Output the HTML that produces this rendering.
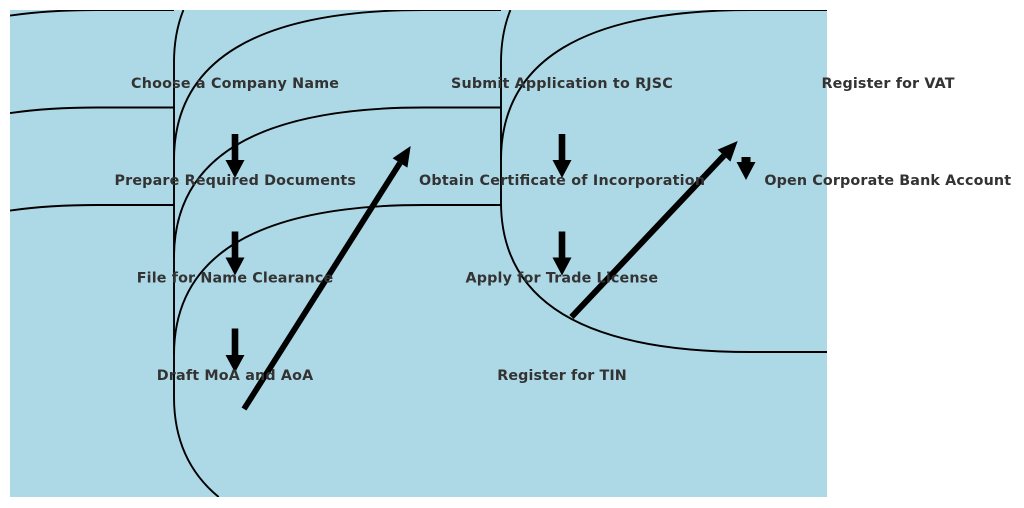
<!DOCTYPE html>
<html>
<head>
<meta charset="utf-8">
<style>
  html, body { margin: 0; padding: 0; background: #ffffff; width: 1024px; height: 508px; overflow: hidden; }
  svg { display: block; }
  .lbl { font-family: "DejaVu Sans", "Liberation Sans", sans-serif; font-weight: bold; font-size: 14.3px; fill: #333333; }
</style>
</head>
<body>
<svg width="1024" height="508" viewBox="0 0 1024 508" xmlns="http://www.w3.org/2000/svg">
  <defs>
    <clipPath id="ax">
      <rect x="10" y="10" width="817" height="487"/>
    </clipPath>
  </defs>
  <rect x="0" y="0" width="1024" height="508" fill="#ffffff"/>
  <rect x="10" y="10" width="817" height="487" fill="#add8e6"/>
  <g clip-path="url(#ax)" fill="none" stroke="#000000" stroke-width="1.9">
    <!-- column 1 box tops -->
    <path d="M 10 15.56 Q 48.88 10 97 10 L 174 10"/>
    <path d="M 10 113.06 Q 48.88 107.5 97 107.5 L 174 107.5"/>
    <path d="M 10 210.56 Q 48.88 205 97 205 L 174 205"/>
    <!-- column 2 left edge + submit corner + TIN bottom corner -->
    <path d="M 183.4 10 Q 174 33.43 174 62.5 L 174 397 Q 174 460.4 218.65 497"/>
    <!-- column 2 top corners -->
    <path d="M 174 160 Q 174 10 424 10 L 501 10"/>
    <path d="M 174 257.5 Q 174 107.5 424 107.5 L 501 107.5"/>
    <path d="M 174 355 Q 174 205 424 205 L 501 205"/>
    <!-- column 3 -->
    <path d="M 510.4 10 Q 501 33.43 501 62.5 L 501 202 Q 501 352 751 352 L 827 352"/>
    <path d="M 501 160 Q 501 10 751 10 L 827 10"/>
  </g>

  <!-- vertical arrows -->
  <g fill="#000000" stroke="none">
    <polygon points="231.7,134 238.3,134 238.3,160 244.5,160 235,178 225.5,160 231.7,160"/>
    <polygon points="231.7,231.5 238.3,231.5 238.3,257.5 244.5,257.5 235,275.5 225.5,257.5 231.7,257.5"/>
    <polygon points="231.7,328.5 238.3,328.5 238.3,355 244.5,355 235,372.5 225.5,355 231.7,355"/>
    <polygon points="558.7,134 565.3,134 565.3,160 571.5,160 562,178 552.5,160 558.7,160"/>
    <polygon points="558.7,231.5 565.3,231.5 565.3,257.5 571.5,257.5 562,275.5 552.5,257.5 558.7,257.5"/>
    <polygon points="741.5,157 750.5,157 750.5,162 755.5,162 746,180 736.5,162 741.5,162"/>
  </g>

  <!-- diagonal arrows -->
  <line x1="244" y1="409" x2="400" y2="162.9" stroke="#000000" stroke-width="5.8" stroke-linecap="butt"/>
  <polygon points="410.7,146 407.4,167.6 392.6,158.2" fill="#000000"/>
  <line x1="571.5" y1="317" x2="724" y2="155.6" stroke="#000000" stroke-width="6" stroke-linecap="butt"/>
  <polygon points="737.7,141 730.4,161.6 717.6,149.6" fill="#000000"/>

  <!-- labels -->
  <g class="lbl" text-anchor="middle">
    <text x="235" y="88" textLength="208" lengthAdjust="spacing">Choose a Company Name</text>
    <text x="235.2" y="185" textLength="241.5" lengthAdjust="spacing">Prepare Required Documents</text>
    <text x="235" y="282.5" textLength="196.5" lengthAdjust="spacing">File for Name Clearance</text>
    <text x="235" y="380" textLength="156.5" lengthAdjust="spacing">Draft MoA and AoA</text>

    <text x="561.9" y="88" textLength="221.7" lengthAdjust="spacing">Submit Application to RJSC</text>
    <text x="562" y="185" textLength="286" lengthAdjust="spacing">Obtain Certificate of Incorporation</text>
    <text x="561.8" y="282.5" textLength="192.5" lengthAdjust="spacing">Apply for Trade License</text>
    <text x="562" y="380" textLength="129.5" lengthAdjust="spacing">Register for TIN</text>

    <text x="888" y="88" textLength="133" lengthAdjust="spacing">Register for VAT</text>
    <text x="887.7" y="185" textLength="246.7" lengthAdjust="spacing">Open Corporate Bank Account</text>
  </g>
</svg>
</body>
</html>
